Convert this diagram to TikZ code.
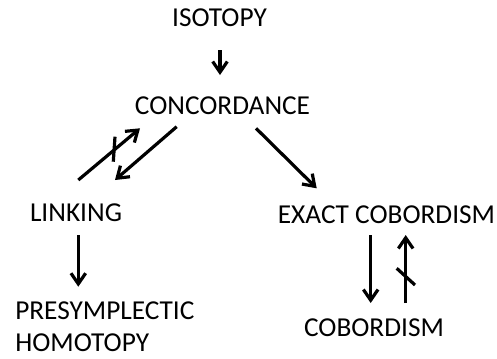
\documentclass[tikz,border=0pt]{standalone}
\usepackage{fontspec}
\setmainfont{Carlito}
\usetikzlibrary{arrows.meta}

\begin{document}
\begin{tikzpicture}[x=0.75pt,y=-0.75pt,>={Straight Barb[length=8pt,width=11pt]},
  arr/.style={->,line width=2.4pt},
  bar/.style={line width=2.4pt},
  lbl/.style={inner sep=0pt,font=\fontsize{20.5}{24}\selectfont}]
\useasboundingbox (0,0) rectangle (497,358);
% the notions
\node[lbl,anchor=base] (iso) at (219.5,26.7) {ISOTOPY};
\node[lbl,anchor=base] (conc) at (222.5,114.3) {CONCORDANCE};
\node[lbl,anchor=base] (link) at (76,221.7) {LINKING};
\node[lbl,anchor=base] (exact) at (386.5,223.3) {EXACT COBORDISM};
\node[lbl,anchor=north west,align=left] (presym) at (15,301.7) {PRESYMPLECTIC\\HOMOTOPY};
\node[lbl,anchor=base] (cob) at (374,336.7) {COBORDISM};
% arrow ends
\coordinate (iso-s) at (220,50);
\coordinate (conc-n) at (220,75);
\coordinate (link-a) at (78.3,180);
\coordinate (conc-a) at (140,128.3);
\coordinate (conc-b) at (176.7,126.7);
\coordinate (link-b) at (115,180);
\coordinate (conc-c) at (256,128.3);
\coordinate (exact-c) at (316.7,188.3);
\coordinate (link-s) at (78.3,235);
\coordinate (presym-n) at (78.3,286.7);
\coordinate (exact-d) at (370.7,235);
\coordinate (cob-d) at (370.7,303);
\coordinate (cob-e) at (405.7,303);
\coordinate (exact-e) at (405.7,235);
% arrows
\draw[arr] (iso-s) -- (conc-n);
\draw[arr] (link-a) -- (conc-a);
\draw[bar] (115,136.7) -- (113.3,161.7);
\draw[arr] (conc-b) -- (link-b);
\draw[arr] (conc-c) -- (exact-c);
\draw[arr] (link-s) -- (presym-n);
\draw[arr] (exact-d) -- (cob-d);
\draw[arr] (cob-e) -- (exact-e);
\draw[bar] (396.7,268.3) -- (415,285);
\end{tikzpicture}
\end{document}
